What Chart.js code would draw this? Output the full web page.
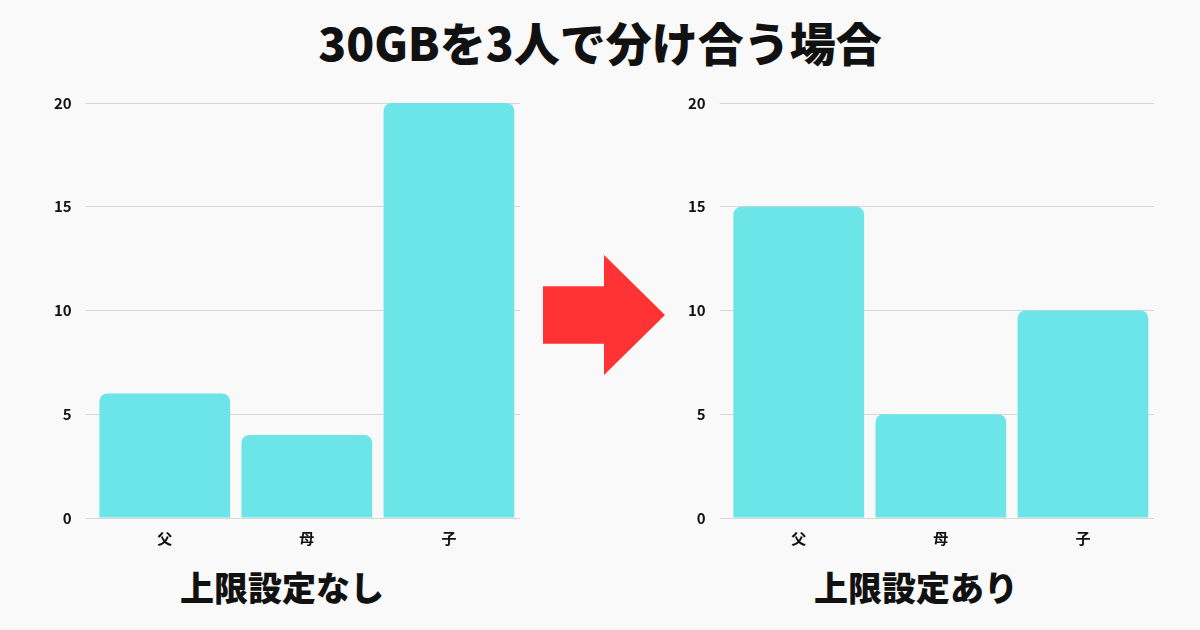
<!DOCTYPE html>
<html><head><meta charset="utf-8">
<script src="https://cdn.jsdelivr.net/npm/chart.js@4"></script>
<style>
body{margin:0;width:1200px;height:630px;background:#f8f9f8;font-family:"Noto Sans CJK JP",sans-serif;position:relative;overflow:hidden}
h1{position:absolute;top:8px;left:0;width:1200px;text-align:center;margin:0;font-size:46px;font-weight:900;color:#111}
.cap{position:absolute;top:562px;font-size:34px;font-weight:900;color:#111;text-align:center;width:480px}
.box{position:absolute;top:80px;width:480px;height:470px}
.arrow{position:absolute;left:543px;top:255px;width:122px;height:120px;background:#ff3333;clip-path:polygon(0 26%,50% 26%,50% 0,100% 50%,50% 100%,50% 74%,0 74%)}
</style></head><body>
<h1>30GBを3人で分け合う場合</h1>
<div class="box" style="left:40px"><canvas id="c1"></canvas></div>
<div class="box" style="left:674px"><canvas id="c2"></canvas></div>
<div class="arrow"></div>
<div class="cap" style="left:42px">上限設定なし</div>
<div class="cap" style="left:676px">上限設定あり</div>
<script>
const categories = ['父', '母', '子'];
const noLimit = [6, 4, 20];
const withLimit = [15, 5, 10];
const yTicks = [0, 5, 10, 15, 20];

function makeChart(id, values) {
  new Chart(document.getElementById(id), {
    type: 'bar',
    data: { labels: categories, datasets: [{ data: values, backgroundColor: '#6ce5e8',
      borderRadius: { topLeft: 8, topRight: 8 }, borderSkipped: 'bottom',
      barPercentage: 0.92, categoryPercentage: 1 }] },
    options: {
      responsive: true, maintainAspectRatio: false, animation: false,
      plugins: { legend: { display: false }, tooltip: { enabled: false } },
      layout: { padding: { top: 6, right: 0 } },
      scales: {
        x: { grid: { display: false }, border: { display: false },
          ticks: { color: '#111', font: { size: 15, weight: 'bold', family: 'Noto Sans CJK JP' } } },
        y: { min: 0, max: 20, afterBuildTicks: a => { a.ticks = yTicks.map(v => ({ value: v })); },
          grid: { color: '#d6d6d6' }, border: { display: false },
          ticks: { color: '#111', padding: 14, font: { size: 15, weight: 'bold', family: 'Noto Sans CJK JP' } } }
      }
    }
  });
}
makeChart('c1', noLimit);
makeChart('c2', withLimit);
</script>
</body></html>
